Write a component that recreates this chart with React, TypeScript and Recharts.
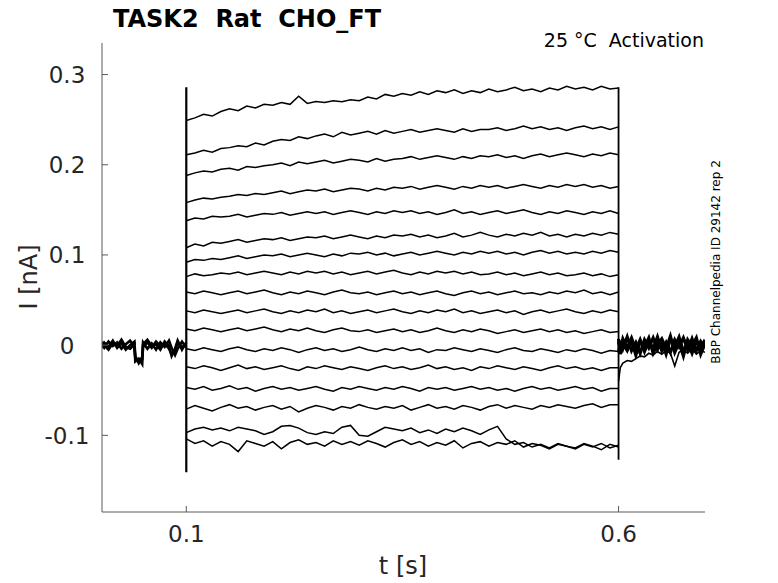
import * as React from "react";
import { Line, LineChart, XAxis, YAxis } from "recharts";

// time grids [s]
const STEP_T = [
  0.1, 0.11, 0.12, 0.13, 0.14, 0.15, 0.16, 0.17, 0.18, 0.19,
  0.2, 0.21, 0.22, 0.23, 0.24, 0.25, 0.26, 0.27, 0.28, 0.29,
  0.3, 0.31, 0.32, 0.33, 0.34, 0.35, 0.36, 0.37, 0.38, 0.39,
  0.4, 0.41, 0.42, 0.43, 0.44, 0.45, 0.46, 0.47, 0.48, 0.49,
  0.5, 0.51, 0.52, 0.53, 0.54, 0.55, 0.56, 0.57, 0.58, 0.59,
  0.6,
];
const PRE_T = [
  0, 0.005, 0.01, 0.015, 0.02, 0.025, 0.03, 0.035, 0.04, 0.041, 0.045, 0.049,
  0.05, 0.055, 0.06, 0.065, 0.07, 0.075, 0.08, 0.083, 0.087, 0.09, 0.095, 0.1,
];
const POST_T = [
  0.6, 0.602, 0.605, 0.61, 0.615, 0.62, 0.625, 0.63, 0.635, 0.64, 0.645,
  0.65, 0.655, 0.66, 0.665, 0.67, 0.675, 0.68, 0.685, 0.69, 0.695, 0.7,
];

// step currents in pA, one sweep per array, top to bottom
const STEP_1 = [
  249, 252, 256, 254, 259, 262, 260, 265, 263, 267, 266, 269, 267, 276, 268, 270, 269,
  271, 270, 272, 271, 275, 273, 278, 276, 279, 277, 281, 278, 282, 280, 283, 279, 282,
  280, 284, 281, 283, 286, 282, 284, 281, 285, 283, 287, 284, 286, 283, 287, 284, 285,
];
const STEP_2 = [
  211, 213, 216, 214, 218, 219, 221, 220, 224, 222, 226, 228, 227, 231, 229, 232, 234,
  231, 236, 233, 235, 237, 234, 238, 235, 237, 239, 236, 238, 240, 238, 236, 240, 237,
  239, 239, 241, 238, 240, 243, 240, 242, 239, 241, 238, 241, 243, 240, 242, 239, 242,
];
const STEP_3 = [
  188, 191, 193, 192, 195, 196, 194, 198, 197, 199, 200, 202, 199, 203, 201, 203, 205,
  202, 204, 206, 205, 203, 207, 204, 206, 207, 209, 206, 208, 210, 208, 206, 209, 207,
  210, 209, 211, 208, 210, 207, 210, 212, 209, 211, 213, 211, 209, 212, 210, 213, 211,
];
const STEP_4 = [
  158, 161, 163, 162, 164, 165, 167, 166, 168, 167, 169, 171, 168, 170, 172, 171, 173,
  170, 172, 174, 173, 171, 174, 172, 175, 174, 176, 173, 175, 177, 175, 173, 176, 174,
  177, 175, 177, 174, 176, 178, 176, 174, 177, 175, 178, 176, 178, 175, 177, 174, 176,
];
const STEP_5 = [
  138, 141, 140, 143, 142, 143, 145, 142, 144, 146, 145, 147, 144, 146, 148, 146, 148,
  145, 147, 149, 147, 145, 148, 146, 149, 147, 149, 146, 148, 145, 147, 150, 146, 148,
  145, 147, 149, 146, 148, 150, 147, 145, 148, 146, 149, 147, 145, 148, 146, 149, 146,
];
const STEP_6 = [
  108, 112, 110, 114, 113, 115, 117, 114, 116, 118, 117, 119, 116, 118, 120, 119, 121,
  118, 120, 122, 120, 118, 121, 119, 122, 121, 123, 120, 122, 119, 121, 124, 120, 122,
  125, 122, 120, 123, 121, 124, 122, 125, 121, 123, 120, 123, 121, 124, 122, 125, 123,
];
const STEP_7 = [
  92, 95, 94, 96, 95, 97, 99, 96, 98, 100, 99, 101, 98, 100, 102, 100, 98,
  101, 99, 102, 101, 103, 100, 102, 99, 101, 103, 100, 102, 104, 102, 100, 103, 101,
  104, 102, 104, 101, 103, 100, 103, 105, 102, 104, 101, 103, 101, 104, 102, 105, 103,
];
const STEP_8 = [
  76, 79, 77, 78, 80, 79, 81, 78, 80, 82, 80, 78, 81, 79, 82, 80, 82,
  79, 81, 78, 80, 82, 79, 81, 83, 80, 78, 81, 79, 82, 80, 82, 79, 81,
  78, 79, 81, 78, 80, 77, 79, 81, 78, 80, 77, 78, 80, 77, 79, 76, 78,
];
const STEP_9 = [
  59, 57, 60, 58, 56, 58, 60, 57, 59, 61, 58, 56, 59, 57, 60, 58, 56,
  59, 61, 58, 57, 59, 56, 58, 60, 57, 59, 56, 58, 60, 57, 55, 58, 60,
  57, 59, 56, 58, 60, 57, 58, 56, 59, 57, 60, 58, 61, 57, 59, 56, 59,
];
const STEP_10 = [
  38, 36, 39, 37, 35, 37, 39, 36, 38, 40, 37, 35, 38, 36, 39, 37, 40,
  36, 38, 35, 37, 39, 36, 38, 40, 37, 35, 38, 36, 39, 37, 40, 36, 38,
  35, 37, 39, 36, 38, 34, 37, 39, 36, 38, 40, 37, 35, 38, 36, 39, 37,
];
const STEP_11 = [
  18, 16, 19, 17, 15, 17, 19, 16, 18, 20, 17, 15, 18, 16, 19, 16, 14,
  17, 19, 16, 15, 17, 14, 16, 18, 15, 17, 14, 16, 19, 16, 14, 17, 15,
  18, 16, 13, 15, 17, 14, 16, 18, 15, 17, 14, 16, 13, 15, 17, 14, 15,
];
const STEP_12 = [
  -4, -6, -3, -5, -7, -4, -2, -5, -7, -4, -6, -3, -5, -8, -5, -3, -6,
  -4, -7, -5, -2, -5, -7, -4, -6, -3, -6, -4, -8, -5, -6, -3, -5, -7,
  -4, -6, -8, -5, -3, -6, -7, -4, -6, -8, -5, -7, -4, -6, -9, -6, -7,
];
const STEP_13 = [
  -24, -26, -23, -25, -28, -25, -22, -26, -24, -27, -25, -23, -26, -28, -24, -26, -23,
  -25, -27, -24, -26, -28, -25, -23, -26, -24, -27, -25, -22, -26, -24, -27, -25, -28,
  -24, -26, -23, -25, -27, -24, -26, -28, -25, -23, -26, -24, -27, -25, -28, -25, -25,
];
const STEP_14 = [
  -47, -49, -46, -50, -48, -45, -49, -47, -51, -48, -46, -49, -47, -50, -48, -46, -49,
  -51, -47, -49, -46, -48, -50, -47, -49, -46, -48, -51, -47, -49, -47, -50, -48, -46,
  -49, -47, -50, -48, -51, -48, -46, -49, -47, -50, -48, -46, -49, -47, -51, -48, -48,
];
const STEP_15 = [
  -71, -67, -70, -73, -69, -66, -70, -68, -72, -69, -67, -71, -68, -74, -70, -67, -69,
  -72, -68, -70, -66, -69, -71, -68, -70, -67, -72, -69, -66, -70, -68, -71, -67, -69,
  -72, -68, -66, -70, -67, -69, -71, -67, -69, -66, -68, -70, -67, -65, -69, -66, -66,
];
const STEP_16 = [
  -97, -93, -91, -94, -92, -95, -91, -93, -95, -99, -96, -90, -89, -92, -97, -99, -96,
  -98, -91, -89, -100, -101, -96, -91, -93, -95, -92, -97, -94, -98, -93, -96, -92, -95,
  -99, -94, -90, -104, -110, -108, -113, -110, -114, -109, -112, -115, -110, -113, -109, -114, -111,
];
const STEP_17 = [
  -104, -109, -106, -112, -107, -110, -118, -106, -109, -112, -107, -115, -108, -105, -110, -108, -112,
  -106, -110, -107, -111, -106, -109, -113, -108, -105, -110, -107, -112, -108, -111, -106, -114, -109,
  -107, -112, -108, -110, -106, -113, -109, -111, -115, -110, -112, -114, -109, -112, -116, -110, -113,
];
const STEP_TRACES = [
  STEP_1, STEP_2, STEP_3, STEP_4, STEP_5, STEP_6, STEP_7, STEP_8, STEP_9,
  STEP_10, STEP_11, STEP_12, STEP_13, STEP_14, STEP_15, STEP_16, STEP_17,
];

// holding current before the step (pA), overlapping sweeps
const PRE_A = [2, -3, 4, -1, 3, -4, 1, 5, -2, -14, -19, -16, -2, 3, -3, 4, -1, 2, -4, -10, -6, 3, -2, 1];
const PRE_B = [-4, 3, -2, 5, -3, 2, -5, 0, 4, -12, -20, -13, 3, -4, 2, -5, 3, -2, 5, -3, -11, -4, 4, -3];
const PRE_C = [5, 0, -5, 2, -1, 6, -2, -4, 1, -18, -15, -21, 1, 6, -1, 1, -5, 4, -1, -12, -4, 5, -5, 3];

// tail current after the step (pA)
const POST_A = [4, -6, 7, -3, 8, -5, 6, -7, 5, -4, 9, -6, 3, -8, 6, -2, 8, -5, 7, -6, 4, -3];
const POST_B = [-8, 5, -4, 9, -6, 3, -9, 6, -3, 8, -5, 4, -10, 7, -2, 9, -7, 3, -9, 5, -4, 6];
const POST_C = [7, -10, 2, -6, 5, -11, 4, -2, 8, -9, 1, 7, -4, 10, -8, 3, -12, 6, -1, 8, -10, 2];
const POST_D = [-40, -25, -20, -17, -18, -15, -12, -13, -9, -11, -7, -10, -6, -9, -23, -8, -5, -9, -4, -10, -6, -8];

// capacitive spikes at step on/off (pA)
const SPIKE_ON_T = [0.1, 0.1];
const SPIKE_ON = [286, -141];
const SPIKE_OFF_T = [0.6, 0.6];
const SPIKE_OFF = [286, -127];

const X_TICKS = [0.1, 0.6];
const X_TICK_LABELS = ["0.1", "0.6"];
const Y_TICKS = [-0.1, 0, 0.1, 0.2, 0.3];
const Y_TICK_LABELS = ["-0.1", "0", "0.1", "0.2", "0.3"];

const W = 778;
const H = 583;
const PLOT_LEFT = 102;
const PLOT_RIGHT = 705;
const PLOT_TOP = 43;
const PLOT_BOTTOM = 512;
const Y_AXIS_W = 60;
const X_AXIS_H = 40;

const FONT = "'DejaVu Sans', sans-serif";
const AXIS_COLOR = "#5a5a5a";
const TEXT_COLOR = "#262626";

type Pt = { t: number; v: number };

function toPoints(times: number[], pA: number[]): Pt[] {
  return times.map((t, i) => ({ t, v: pA[i] / 1000 }));
}

const SERIES: { key: string; data: Pt[]; width: number }[] = [
  { key: "preA", data: toPoints(PRE_T, PRE_A), width: 2.6 },
  { key: "preB", data: toPoints(PRE_T, PRE_B), width: 2.6 },
  { key: "preC", data: toPoints(PRE_T, PRE_C), width: 2.6 },
  { key: "postA", data: toPoints(POST_T, POST_A), width: 3.2 },
  { key: "postB", data: toPoints(POST_T, POST_B), width: 3.2 },
  { key: "postC", data: toPoints(POST_T, POST_C), width: 3.2 },
  { key: "postD", data: toPoints(POST_T, POST_D), width: 1.6 },
  ...STEP_TRACES.map((tr, i) => ({ key: `step${i + 1}`, data: toPoints(STEP_T, tr), width: 1.5 })),
  { key: "spikeOn", data: toPoints(SPIKE_ON_T, SPIKE_ON), width: 2.2 },
  { key: "spikeOff", data: toPoints(SPIKE_OFF_T, SPIKE_OFF), width: 1.8 },
];

function XTick(props: any) {
  const { x, payload } = props;
  const label = X_TICK_LABELS[X_TICKS.indexOf(payload.value)];
  return (
    <g>
      <line x1={x} x2={x} y1={PLOT_BOTTOM} y2={PLOT_BOTTOM - 6} stroke={AXIS_COLOR} />
      <text x={x} y={542} textAnchor="middle" fontFamily={FONT} fontSize={23} fill={TEXT_COLOR}>
        {label}
      </text>
    </g>
  );
}

function YTick(props: any) {
  const { y, payload } = props;
  const label = Y_TICK_LABELS[Y_TICKS.indexOf(payload.value)];
  return (
    <g>
      <line x1={PLOT_LEFT} x2={PLOT_LEFT + 6} y1={y} y2={y} stroke={AXIS_COLOR} />
      <text x={67} y={y + 8.5} textAnchor="middle" fontFamily={FONT} fontSize={23} fill={TEXT_COLOR}>
        {label}
      </text>
    </g>
  );
}

export default function App() {
  return (
    <div style={{ position: "fixed", left: 0, top: 0, width: W, height: H, background: "#fff" }}>
      <LineChart
        width={W}
        height={H}
        margin={{
          top: PLOT_TOP,
          right: W - PLOT_RIGHT,
          left: PLOT_LEFT - Y_AXIS_W,
          bottom: H - PLOT_BOTTOM - X_AXIS_H,
        }}
      >
        <XAxis
          dataKey="t"
          type="number"
          domain={[0.0025, 0.7]}
          allowDataOverflow
          ticks={X_TICKS}
          tick={<XTick />}
          tickLine={false}
          tickSize={0}
          tickMargin={0}
          height={X_AXIS_H}
          axisLine={{ stroke: AXIS_COLOR }}
        />
        <YAxis
          type="number"
          domain={[-0.185, 0.335]}
          allowDataOverflow
          ticks={Y_TICKS}
          tick={<YTick />}
          tickLine={false}
          tickSize={0}
          tickMargin={0}
          width={Y_AXIS_W}
          axisLine={{ stroke: AXIS_COLOR }}
        />
        {SERIES.map((s) => (
          <Line
            key={s.key}
            data={s.data}
            dataKey="v"
            type="linear"
            stroke="#000"
            strokeWidth={s.width}
            dot={false}
            activeDot={false}
            isAnimationActive={false}
          />
        ))}
      </LineChart>
      <svg
        width={W}
        height={H}
        style={{ position: "absolute", left: 0, top: 0, pointerEvents: "none" }}
      >
        <text x={113} y={27} fontFamily={FONT} fontSize={24} fontWeight="bold" fill="#000" style={{ whiteSpace: "pre" }}>
          {"TASK2  Rat  CHO_FT"}
        </text>
        <text x={704} y={47} textAnchor="end" fontFamily={FONT} fontSize={19} fill="#000" style={{ whiteSpace: "pre" }}>
          {"25 °C  Activation"}
        </text>
        <text
          x={720}
          y={262}
          textAnchor="middle"
          fontFamily={FONT}
          fontSize={12}
          fill="#000"
          transform="rotate(-90 720 262)"
        >
          BBP Channelpedia ID 29142 rep 2
        </text>
        <text
          x={37}
          y={277}
          textAnchor="middle"
          fontFamily={FONT}
          fontSize={24}
          fill={TEXT_COLOR}
          transform="rotate(-90 37 277)"
        >
          I [nA]
        </text>
        <text x={403} y={574} textAnchor="middle" fontFamily={FONT} fontSize={24} fill={TEXT_COLOR}>
          t [s]
        </text>
      </svg>
    </div>
  );
}
